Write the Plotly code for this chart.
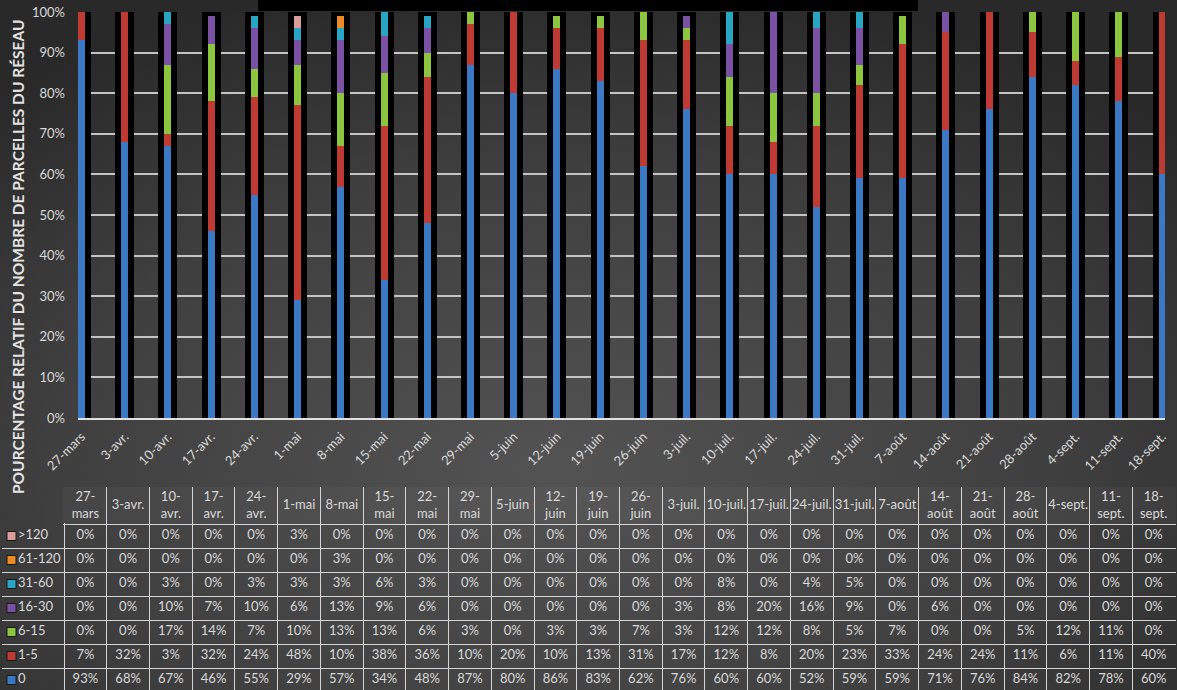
import base64
import numpy as np
import plotly.graph_objects as go

W, H = 1177, 690

categories = ["27-mars", "3-avr.", "10-avr.", "17-avr.", "24-avr.", "1-mai", "8-mai", "15-mai",
              "22-mai", "29-mai", "5-juin", "12-juin", "19-juin", "26-juin", "3-juil.", "10-juil.",
              "17-juil.", "24-juil.", "31-juil.", "7-août", "14-août", "21-août", "28-août",
              "4-sept.", "11-sept.", "18-sept."]
header_labels = ["27-<br>mars", "3-avr.", "10-<br>avr.", "17-<br>avr.", "24-<br>avr.", "1-mai", "8-mai",
                 "15-<br>mai", "22-<br>mai", "29-<br>mai", "5-juin", "12-<br>juin", "19-<br>juin",
                 "26-<br>juin", "3-juil.", "10-juil.", "17-juil.", "24-juil.", "31-juil.", "7-août",
                 "14-<br>août", "21-<br>août", "28-<br>août", "4-sept.", "11-<br>sept.", "18-<br>sept."]

s_0 = [93, 68, 67, 46, 55, 29, 57, 34, 48, 87, 80, 86, 83, 62, 76, 60, 60, 52, 59, 59, 71, 76, 84, 82, 78, 60]
s_1_5 = [7, 32, 3, 32, 24, 48, 10, 38, 36, 10, 20, 10, 13, 31, 17, 12, 8, 20, 23, 33, 24, 24, 11, 6, 11, 40]
s_6_15 = [0, 0, 17, 14, 7, 10, 13, 13, 6, 3, 0, 3, 3, 7, 3, 12, 12, 8, 5, 7, 0, 0, 5, 12, 11, 0]
s_16_30 = [0, 0, 10, 7, 10, 6, 13, 9, 6, 0, 0, 0, 0, 0, 3, 8, 20, 16, 9, 0, 6, 0, 0, 0, 0, 0]
s_31_60 = [0, 0, 3, 0, 3, 3, 3, 6, 3, 0, 0, 0, 0, 0, 0, 8, 0, 4, 5, 0, 0, 0, 0, 0, 0, 0]
s_61_120 = [0, 0, 0, 0, 0, 0, 3, 0, 0, 0, 0, 0, 0, 0, 0, 0, 0, 0, 0, 0, 0, 0, 0, 0, 0, 0]
s_gt120 = [0, 0, 0, 0, 0, 3, 0, 0, 0, 0, 0, 0, 0, 0, 0, 0, 0, 0, 0, 0, 0, 0, 0, 0, 0, 0]

series_names = ["0", "1-5", "6-15", "16-30", "31-60", "61-120", ">120"]
series_values = [s_0, s_1_5, s_6_15, s_16_30, s_31_60, s_61_120, s_gt120]
series_colors = ["#3b79c5", "#bf3a33", "#8cc63e", "#7b52a3", "#27a6c4", "#ec8a25", "#dc9c9a"]

y_title = "POURCENTAGE RELATIF DU NOMBRE DE PARCELLES DU RÉSEAU"

FONT = "Lato"
TXT = "#d9d9d9"
GRID_T = "#d4d4d4"

# pixel layout
PLOT_L, PLOT_R, PLOT_T, PLOT_B = 78, 1165, 12, 418
TABLE_LEFT, TABLE_RIGHT, TABLE_TOP = 3, 1175, 488
HEADER_H, ROW_H, FIRST_COL_W = 36, 24, 61
PAD = 1  # extra pixels so that border grid lines are not on the range edge


def fx(px):
    return px / W


def fy(py):
    return 1 - py / H


n = len(categories)
m = len(series_names)
x = np.arange(n)
col_w = (TABLE_RIGHT - TABLE_LEFT - FIRST_COL_W) / n
rows_top = TABLE_TOP + HEADER_H

fig = go.Figure()

# black bands behind each bar
fig.add_trace(go.Bar(x=x, y=np.ones(n), width=0.44, marker=dict(color="#000000", line_width=0),
                     hoverinfo="skip", showlegend=False))

base = np.zeros(n)
for name, vals, col in zip(series_names, series_values, series_colors):
    v = np.array(vals, dtype=float) / 100.0
    fig.add_trace(go.Bar(x=x, y=v, base=base.copy(), width=0.162, name=name,
                         marker=dict(color=col, line_width=0), showlegend=False))
    base += v

# ---- data table (drawn on its own hidden axes) ----
col_edges = [0] + [FIRST_COL_W + k * col_w for k in range(n + 1)]
col_centers = [FIRST_COL_W + (i + 0.5) * col_w for i in range(n)]

tx, ty, tt = [], [], []
for i in range(n):
    for r, k in enumerate(range(m - 1, -1, -1)):
        tx.append(col_centers[i])
        ty.append(r + 0.5)
        tt.append(f"{series_values[k][i]}%")
fig.add_trace(go.Scatter(x=tx, y=ty, text=tt, mode="text", xaxis="x3", yaxis="y3",
                         textposition="middle center",
                         textfont=dict(family=FONT, size=13, color=TXT),
                         hoverinfo="skip", showlegend=False))

legend_rows = [r + 0.5 for r in range(m)]
fig.add_trace(go.Scatter(x=[8.5] * m, y=legend_rows, mode="markers", xaxis="x3", yaxis="y3",
                         marker=dict(symbol="square", size=9, color=series_colors[::-1],
                                     line=dict(color="#1a1a1a", width=1)),
                         hoverinfo="skip", showlegend=False))
fig.add_trace(go.Scatter(x=[15] * m, y=legend_rows, text=series_names[::-1], mode="text",
                         xaxis="x3", yaxis="y3", textposition="middle right",
                         textfont=dict(family=FONT, size=13, color=TXT),
                         hoverinfo="skip", showlegend=False))

fig.add_trace(go.Scatter(x=[(i + 0.5) * col_w for i in range(n)], y=[HEADER_H / 2] * n,
                         text=header_labels, mode="text", xaxis="x4", yaxis="y4",
                         textposition="middle center",
                         textfont=dict(family=FONT, size=13, color=TXT),
                         hoverinfo="skip", showlegend=False))

svg = (f"<svg xmlns='http://www.w3.org/2000/svg' width='{W}' height='{H}' viewBox='0 0 {W} {H}' "
       "preserveAspectRatio='none'><defs><radialGradient id='g' cx='0.47' cy='0.68' r='0.72'>"
       "<stop offset='0' stop-color='#535353'/><stop offset='0.6' stop-color='#3f3f3f'/>"
       "<stop offset='1' stop-color='#292929'/></radialGradient></defs>"
       f"<rect width='{W}' height='{H}' fill='url(#g)'/></svg>")
src = "data:image/svg+xml;base64," + base64.b64encode(svg.encode()).decode()

table_grid = dict(showticklabels=False, ticks="", showgrid=True, gridcolor=GRID_T, gridwidth=1,
                  zeroline=False, showline=False, fixedrange=True, automargin=False)
tw = TABLE_RIGHT - TABLE_LEFT

fig.update_layout(
    width=W, height=H, autosize=False,
    margin=dict(l=0, r=0, t=0, b=0, pad=0, autoexpand=False),
    paper_bgcolor="#333333",
    plot_bgcolor="rgba(255,255,255,0.03)",
    barmode="overlay",
    bargap=0,
    font=dict(family=FONT, color=TXT, size=13),
    images=[dict(source=src, xref="paper", yref="paper", x=0, y=1, sizex=1, sizey=1,
                 xanchor="left", yanchor="top", sizing="stretch", layer="below")],
    shapes=[dict(type="rect", xref="paper", yref="paper", x0=fx(258), x1=fx(918),
                 y0=fy(11), y1=1, fillcolor="#000000", line_width=0, layer="above")],
    annotations=[dict(text=f"<b>{y_title}</b>", textangle=-90, xref="paper", yref="paper",
                      x=fx(18), y=fy(257), xanchor="center", yanchor="middle", showarrow=False,
                      font=dict(family=FONT, size=15.5, color="#e3e3e3"))],
    xaxis=dict(domain=[fx(PLOT_L), fx(PLOT_R)], range=[-0.081, 25.069], tickmode="array",
               tickvals=x, ticktext=categories, tickangle=-45, showgrid=False, zeroline=False,
               showline=True, linecolor="#e0e0e0", linewidth=2, ticks="", ticklabelstandoff=4,
               tickfont=dict(family=FONT, size=13, color=TXT), fixedrange=True, automargin=False),
    yaxis=dict(domain=[fy(PLOT_B), fy(PLOT_T)], range=[0, 1], dtick=0.1, tickformat=".0%",
               showgrid=True, gridcolor="#c4c4c4", gridwidth=1.5, zeroline=False, showline=False,
               ticks="", ticklabelstandoff=12, tickfont=dict(family=FONT, size=13, color=TXT),
               fixedrange=True, automargin=False),
    xaxis3=dict(domain=[fx(TABLE_LEFT - PAD), fx(TABLE_RIGHT + PAD)], range=[-PAD, tw + PAD],
                anchor="y3", tickmode="array", tickvals=col_edges, **table_grid),
    yaxis3=dict(domain=[0, fy(rows_top - PAD)],
                range=[(H - rows_top) / ROW_H, -PAD / ROW_H],
                anchor="x3", tickmode="array", tickvals=list(range(m + 1)), **table_grid),
    xaxis4=dict(domain=[fx(TABLE_LEFT + FIRST_COL_W - PAD), fx(TABLE_RIGHT + PAD)],
                range=[-PAD, n * col_w + PAD],
                anchor="y4", tickmode="array", tickvals=[k * col_w for k in range(n + 1)],
                **table_grid),
    yaxis4=dict(domain=[fy(rows_top + PAD), fy(TABLE_TOP - PAD)], range=[HEADER_H + PAD, -PAD],
                anchor="x4", tickmode="array", tickvals=[0, HEADER_H], **table_grid),
)

fig.write_html("out.html")
